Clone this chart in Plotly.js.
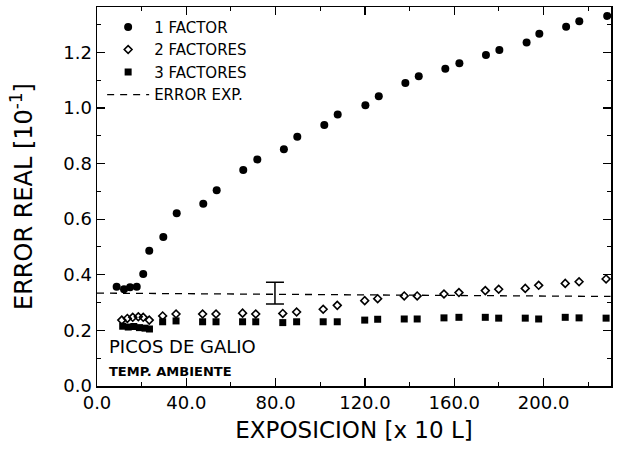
<!DOCTYPE html>
<html>
<head>
<meta charset="utf-8">
<script src="https://cdn.plot.ly/plotly-3.0.1.min.js"></script>
<style>html,body{margin:0;padding:0;background:#fff;}#chart{width:622px;height:452px;}</style>
</head>
<body>
<div id="chart"></div>
<script>
// 1 FACTOR
const f1X = [8.8, 12.1, 14.8, 17.8, 20.7, 23.4, 29.7, 35.7, 47.6, 53.6, 65.5, 71.8, 83.7, 89.7, 101.8, 107.8, 120.2, 126.2, 138.1, 144.1, 156.0, 162.3, 174.2, 180.2, 192.4, 198.1, 210.1, 216.0, 228.5];
const f1Y = [0.357, 0.348, 0.355, 0.357, 0.403, 0.486, 0.536, 0.621, 0.655, 0.704, 0.777, 0.815, 0.851, 0.896, 0.939, 0.976, 1.010, 1.042, 1.090, 1.114, 1.141, 1.161, 1.190, 1.208, 1.235, 1.267, 1.292, 1.312, 1.331];
// 2 FACTORES
const f2X = [11.1, 13.6, 16.0, 18.5, 20.7, 23.4, 29.4, 35.4, 47.3, 53.3, 65.2, 71.1, 83.2, 89.4, 101.3, 107.6, 119.9, 125.7, 137.6, 143.4, 155.4, 162.1, 173.9, 179.9, 191.8, 197.8, 209.7, 215.9, 228.0];
const f2Y = [0.237, 0.243, 0.247, 0.249, 0.247, 0.237, 0.252, 0.259, 0.259, 0.259, 0.262, 0.259, 0.261, 0.266, 0.276, 0.290, 0.307, 0.314, 0.324, 0.324, 0.331, 0.336, 0.343, 0.348, 0.351, 0.362, 0.369, 0.375, 0.385];
// 3 FACTORES
const f3X = [11.5, 14.0, 16.5, 19.0, 21.5, 23.5, 29.4, 35.4, 47.3, 53.3, 65.2, 71.1, 83.2, 89.4, 101.3, 107.6, 119.9, 125.7, 137.6, 143.4, 155.4, 162.1, 173.9, 179.9, 191.8, 197.8, 209.7, 215.9, 228.0];
const f3Y = [0.215, 0.212, 0.214, 0.210, 0.208, 0.205, 0.231, 0.234, 0.231, 0.231, 0.231, 0.231, 0.228, 0.231, 0.231, 0.231, 0.237, 0.240, 0.241, 0.241, 0.245, 0.247, 0.247, 0.244, 0.244, 0.241, 0.247, 0.245, 0.244];
// ERROR EXP. line
const expX = [0, 230];
const expY = [0.334, 0.322];
// experimental error bar
const barX = [79.7];
const barY = [0.334];
const barErr = [0.039];

const font = "DejaVu Sans, sans-serif";

const traces = [
  {x: f1X, y: f1Y, name: "1 FACTOR", mode: "markers", type: "scatter",
   marker: {symbol: "circle", size: 8, color: "#000"}},
  {x: f2X, y: f2Y, name: "2 FACTORES", mode: "markers", type: "scatter",
   marker: {symbol: "diamond-open", size: 6, color: "#000", line: {width: 1.6, color: "#000"}}},
  {x: f3X, y: f3Y, name: "3 FACTORES", mode: "markers", type: "scatter",
   marker: {symbol: "square", size: 7, color: "#000"}},
  {x: expX, y: expY, name: "ERROR EXP.", mode: "lines", type: "scatter",
   line: {color: "#000", width: 1.3, dash: "7px,6px"}},
  {x: barX, y: barY, name: "err", mode: "markers", type: "scatter", showlegend: false,
   marker: {size: 1, color: "rgba(0,0,0,0)"},
   error_y: {type: "data", array: barErr, visible: true, color: "#000", thickness: 1.5, width: 9}}
];

const axisCommon = {
  showgrid: false, zeroline: false, showline: true, linecolor: "#000", linewidth: 1.5,
  mirror: "allticks", ticks: "inside", ticklen: 8, tickwidth: 1.2, tickcolor: "#000",
  tickfont: {family: font, size: 18, color: "#000"}, tickformat: ".1f"
};

const layout = {
  width: 622, height: 452,
  margin: {l: 97, r: 11, t: 7, b: 66},
  paper_bgcolor: "#fff", plot_bgcolor: "#fff",
  font: {family: font, color: "#000"},
  showlegend: true,
  legend: {x: 0.01, y: 0.99, xanchor: "left", yanchor: "top", bgcolor: "rgba(0,0,0,0)",
           itemwidth: 42,
           font: {family: font, size: 15, color: "#000"}, borderwidth: 0},
  xaxis: Object.assign({}, axisCommon, {
    range: [0, 230.2], dtick: 40, tick0: 0,
    minor: {dtick: 20, ticks: "inside", ticklen: 4, tickcolor: "#000", tickwidth: 1},
    title: {text: "EXPOSICION [x 10 L]", font: {family: font, size: 23, color: "#000"}, standoff: 10}
  }),
  yaxis: Object.assign({}, axisCommon, {
    range: [0, 1.363], dtick: 0.2, tick0: 0,
    minor: {dtick: 0.1, ticks: "inside", ticklen: 4, tickcolor: "#000", tickwidth: 1},
    title: {text: "ERROR REAL [10<sup>-1</sup>]", font: {family: font, size: 24, color: "#000"}, standoff: 24}
  }),
  annotations: [
    {xref: "paper", yref: "paper", x: 0.02, y: (386 - 346) / 379, xanchor: "left", yanchor: "middle",
     text: "PICOS DE GALIO", showarrow: false, font: {family: font, size: 18, color: "#000"}},
    {xref: "paper", yref: "paper", x: 0.02, y: (386 - 371) / 379, xanchor: "left", yanchor: "middle",
     text: "<b>TEMP. AMBIENTE</b>", showarrow: false, font: {family: font, size: 13, color: "#000"}}
  ]
};

Plotly.newPlot("chart", traces, layout, {displayModeBar: false, staticPlot: true});
</script>
</body>
</html>
